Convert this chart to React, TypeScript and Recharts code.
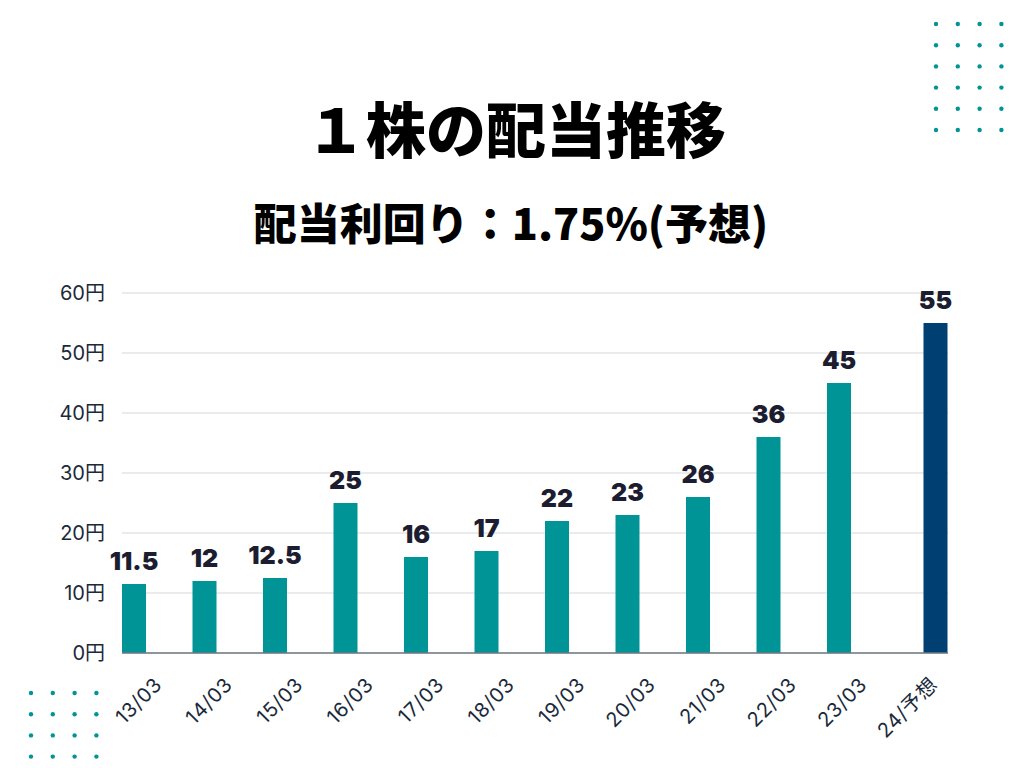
import React from 'react';
import { BarChart, Bar, XAxis, YAxis, CartesianGrid, LabelList } from 'recharts';

const years = ['13/03', '14/03', '15/03', '16/03', '17/03', '18/03', '19/03', '20/03', '21/03', '22/03', '23/03', '24/予想'];
const actual: (number | null)[] = [11.5, 12, 12.5, 25, 16, 17, 22, 23, 26, 36, 45, null];
const forecast: (number | null)[] = [null, null, null, null, null, null, null, null, null, null, null, 55];
const yTicks = [0, 10, 20, 30, 40, 50, 60];

const TEAL = '#009497';
const NAVY = '#003f72';
const INK = '#1b2a3a';
const LABEL_INK = '#1c1d30';

const data = years.map((name, i) => ({ name, actual: actual[i], forecast: forecast[i] }));

// decorative dot grids
const Dots = ({ cols, rows, left, top }: { cols: number; rows: number; left: number; top: number }) => {
  const dots = [];
  for (let r = 0; r < rows; r++) {
    for (let c = 0; c < cols; c++) {
      dots.push(<circle key={`${r}-${c}`} cx={left + c * 21.8} cy={top + r * 21.2} r={2.2} fill={TEAL} />);
    }
  }
  return <>{dots}</>;
};

const XTick = ({ x, y, payload }: { x?: number; y?: number; payload?: { value: string } }) => (
  <g transform={`translate(${(x ?? 0) + 16},${(y ?? 0) + 33})`}>
    <text
      transform="rotate(-45)"
      textAnchor="end"
      fill={INK}
      fontSize={20}
      letterSpacing={0.6}
      fontFamily="Inter, 'Noto Sans CJK JP', sans-serif"
    >
      {payload?.value}
    </text>
  </g>
);

export default function App() {
  return (
    <div style={{ position: 'absolute', left: 0, top: 0, width: 1024, height: 768, background: '#fff', overflow: 'hidden' }}>
      <svg width={1024} height={768} style={{ position: 'absolute', left: 0, top: 0 }}>
        <Dots cols={4} rows={6} left={936} top={24} />
        <Dots cols={4} rows={4} left={31} top={693} />
        <text
          x={516}
          y={153}
          textAnchor="middle"
          fontSize={60}
          fontWeight={900}
          fill="#000"
          fontFamily="'Noto Sans CJK JP', sans-serif"
        >
          １株の配当推移
        </text>
        <text
          x={511}
          y={240}
          textAnchor="middle"
          fontSize={43}
          fontWeight={900}
          fill="#000"
          fontFamily="'Noto Sans CJK JP', sans-serif"
        >
          配当利回り：1.75%(予想)
        </text>
      </svg>
      <div style={{ position: 'absolute', left: 0, top: 0 }}>
        <BarChart
          width={1024}
          height={768}
          data={data}
          margin={{ top: 293, right: 76, bottom: 0, left: 0 }}
          barSize={24}
          barGap={2}
        >
          <CartesianGrid vertical={false} stroke="#d3d7db" strokeWidth={1} />
          <XAxis
            dataKey="name"
            padding={{ left: -10, right: -10 }}
            axisLine={{ stroke: '#6e7a82', strokeWidth: 1.5 }}
            tickLine={false}
            tickSize={0}
            tickMargin={0}
            interval={0}
            height={115}
            tick={<XTick />}
          />
          <YAxis
            width={122}
            domain={[0, 60]}
            ticks={yTicks}
            axisLine={false}
            tickLine={false}
            tickSize={0}
            tickMargin={17}
            tickFormatter={(v: number) => `${v}円`}
            tick={{ fill: INK, fontSize: 20, fontFamily: "Inter, 'Noto Sans CJK JP', sans-serif" }}
          />
          <Bar dataKey="actual" fill={TEAL} isAnimationActive={false}>
            <LabelList
              dataKey="actual"
              position="top"
              offset={14}
              fill={LABEL_INK}
              fontSize={25}
              fontWeight={900}
              fontFamily="Inter, sans-serif"
            />
          </Bar>
          <Bar dataKey="forecast" fill={NAVY} isAnimationActive={false}>
            <LabelList
              dataKey="forecast"
              position="top"
              offset={14}
              fill={LABEL_INK}
              fontSize={25}
              fontWeight={900}
              fontFamily="Inter, sans-serif"
            />
          </Bar>
        </BarChart>
      </div>
    </div>
  );
}
